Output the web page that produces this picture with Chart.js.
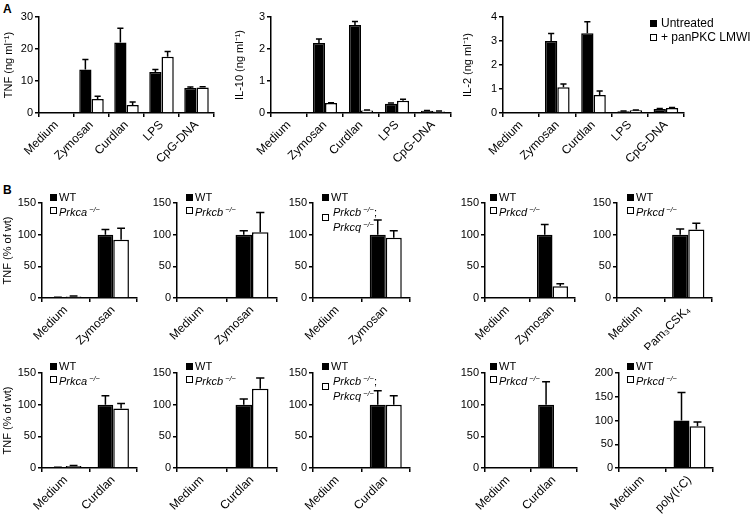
<!DOCTYPE html>
<html>
<head>
<meta charset="utf-8">
<script src="https://cdn.jsdelivr.net/npm/chart.js@4.4.1/dist/chart.umd.min.js"></script>
<style>
    body { margin: 0; background: #fff; }
    #fig { position: relative; width: 755px; height: 514px; overflow: hidden; font-family: 'Liberation Sans', Arial, sans-serif; color: #000; }
    #fig canvas { position: absolute; }
    .letter { position: absolute; font-weight: bold; font-size: 12px; line-height: 12px; }
    .leg { position: absolute; white-space: nowrap; line-height: 14px; height: 14px; }
    .leg sup { font-size: 7.5px; vertical-align: 4px; margin-left: 2px; font-style: italic; }
    .sw { position: absolute; width: 7px; height: 7px; box-sizing: border-box; border: 1px solid #000; }
</style>
</head>
<body>
<div id="fig">
    <div class="letter" style="left:3px;top:3px">A</div>
    <div class="letter" style="left:3px;top:184px">B</div>
</div>
<script>
const FONT = "'Liberation Sans', Arial, sans-serif";

// Panel A: cytokines, untreated vs + panPKC LMWI
const aCategories = ['Medium', 'Zymosan', 'Curdlan', 'LPS', 'CpG-DNA'];
const tnfUntreated = [0, 13.6, 22.0, 12.8, 7.8];
const tnfUntreatedErr = [0, 3.1, 4.5, 0.8, 0.3];
const tnfLmwi = [0, 4.4, 2.5, 17.6, 8.0];
const tnfLmwiErr = [0, 0.8, 0.9, 1.6, 0.2];
const il10Untreated = [0, 2.19, 2.75, 0.29, 0.07];
const il10UntreatedErr = [0, 0.12, 0.11, 0.02, 0.01];
const il10Lmwi = [0, 0.31, 0.08, 0.38, 0.05];
const il10LmwiErr = [0, 0.01, 0.01, 0.05, 0.01];
const il2Untreated = [0, 3.0, 3.32, 0.07, 0.17];
const il2UntreatedErr = [0, 0.31, 0.48, 0.01, 0.02];
const il2Lmwi = [0, 1.07, 0.75, 0.11, 0.21];
const il2LmwiErr = [0, 0.14, 0.17, 0.01, 0.02];

// Panel B: TNF (% of wt), WT vs knockout
const zymosanCats = ['Medium', 'Zymosan'];
const curdlanCats = ['Medium', 'Curdlan'];
const pamCats = ['Medium', 'Pam₃CSK₄'];
const polyCats = ['Medium', 'poly(I:C)'];

const prkcaZymWt = [1, 100];
const prkcaZymWtErr = [0.3, 8];
const prkcaZymKo = [2.5, 92];
const prkcaZymKoErr = [0.8, 18];
const prkcbZymWt = [0, 100];
const prkcbZymWtErr = [0, 6];
const prkcbZymKo = [0, 104];
const prkcbZymKoErr = [0, 31];
const prkcbqZymWt = [0, 100];
const prkcbqZymWtErr = [0, 23];
const prkcbqZymKo = [0, 95];
const prkcbqZymKoErr = [0, 11];
const prkcdZymWt = [0, 100];
const prkcdZymWtErr = [0, 16];
const prkcdZymKo = [0, 18.5];
const prkcdZymKoErr = [0, 4];
const prkcdPamWt = [0, 100];
const prkcdPamWtErr = [0, 9];
const prkcdPamKo = [0, 108];
const prkcdPamKoErr = [0, 10];

const prkcaCurWt = [1, 100];
const prkcaCurWtErr = [0.3, 14];
const prkcaCurKo = [3, 94];
const prkcaCurKoErr = [1, 8];
const prkcbCurWt = [0, 100];
const prkcbCurWtErr = [0, 9];
const prkcbCurKo = [0, 125];
const prkcbCurKoErr = [0, 17];
const prkcbqCurWt = [0, 100];
const prkcbqCurWtErr = [0, 22];
const prkcbqCurKo = [0, 100];
const prkcbqCurKoErr = [0, 14];
const prkcdCurWt = [0, 100];
const prkcdCurWtErr = [0, 36];
const prkcdCurKo = [0, 1.5];
const prkcdCurKoErr = [0, 0];
const prkcdPolyWt = [0, 100];
const prkcdPolyWtErr = [0, 59];
const prkcdPolyKo = [0, 88];
const prkcdPolyKoErr = [0, 9];

const fig = document.getElementById('fig');

// One-sided (upward) error bars with a short cap
const errorBars = {
    id: 'errorBars',
    afterDatasetsDraw(chart) {
        const ctx = chart.ctx;
        const yScale = chart.scales.y;
        chart.data.datasets.forEach((ds, di) => {
            const meta = chart.getDatasetMeta(di);
            meta.data.forEach((bar, i) => {
                const err = ds.errors ? ds.errors[i] : 0;
                if (!err) return;
                const yBase = yScale.getPixelForValue(ds.data[i]);
                const yTop = yScale.getPixelForValue(ds.data[i] + err);
                const half = bar.width / 4;
                ctx.save();
                ctx.strokeStyle = '#000';
                ctx.lineWidth = 1.5;
                ctx.beginPath();
                ctx.moveTo(bar.x, yBase);
                ctx.lineTo(bar.x, yTop);
                ctx.moveTo(bar.x - half, yTop);
                ctx.lineTo(bar.x + half, yTop);
                ctx.stroke();
                ctx.restore();
            });
        });
    }
};

function drawPanel(p) {
    const padTop = 10, padRight = 6;
    const x0 = p.left - p.axisW;
    const y0 = p.top - padTop;
    const canvas = document.createElement('canvas');
    canvas.width = (p.right - p.left) + p.axisW + padRight;
    canvas.height = (p.bottom - p.top) + padTop + p.labelH;
    canvas.style.left = x0 + 'px';
    canvas.style.top = y0 + 'px';
    fig.appendChild(canvas);

    const tickFont = { family: FONT, size: 11 };
    new Chart(canvas, {
        type: 'bar',
        data: {
            labels: p.labels,
            datasets: [
                { data: p.a, errors: p.aErr, backgroundColor: '#000', borderColor: '#000', borderWidth: 1.5 },
                { data: p.b, errors: p.bErr, backgroundColor: '#fff', borderColor: '#000', borderWidth: 1.5 }
            ]
        },
        options: {
            responsive: false,
            animation: false,
            devicePixelRatio: 1,
            layout: { padding: { top: padTop, right: padRight, left: 0, bottom: 0 } },
            plugins: { legend: { display: false }, tooltip: { enabled: false } },
            datasets: { bar: { categoryPercentage: p.catPct, barPercentage: 1 } },
            scales: {
                x: {
                    grid: { display: true, drawOnChartArea: false, drawTicks: true, tickLength: 4, color: '#000', lineWidth: 1.5, offset: true },
                    border: { display: true, color: '#000', width: 1.5 },
                    ticks: { color: '#000', font: { family: FONT, size: 12 }, minRotation: 45, maxRotation: 45, padding: 1, autoSkip: false },
                    afterFit: s => { s.height = p.labelH; }
                },
                y: {
                    min: 0,
                    max: p.yMax,
                    grid: { drawOnChartArea: false, drawTicks: true, tickLength: 4, color: '#000', lineWidth: 1.5 },
                    border: { display: true, color: '#000', width: 1.5 },
                    ticks: { stepSize: p.yStep, color: '#000', font: tickFont, padding: 2 },
                    title: { display: !!p.yTitle, text: p.yTitle, color: '#000', font: tickFont, padding: { top: p.titlePad || 2, bottom: 0 } },
                    afterFit: s => { s.width = p.axisW; }
                }
            }
        },
        plugins: [errorBars]
    });
}

function addSwatch(x, yc, filled) {
    const sw = document.createElement('div');
    sw.className = 'sw';
    sw.style.left = x + 'px';
    sw.style.top = (yc - 3.5) + 'px';
    sw.style.background = filled ? '#000' : '#fff';
    fig.appendChild(sw);
}

function addText(x, yc, html, size) {
    const t = document.createElement('div');
    t.className = 'leg';
    t.style.left = x + 'px';
    t.style.top = (yc - 7) + 'px';
    t.style.fontSize = size + 'px';
    t.innerHTML = html;
    fig.appendChild(t);
}

function koLegend(x, y1, gene) {
    addSwatch(x, y1, true);
    addText(x + 9, y1, 'WT', 11);
    addSwatch(x, y1 + 13, false);
    addText(x + 9, y1 + 13, '<i>' + gene + '</i><sup>−/−</sup>', 11);
}

// Panel A
drawPanel({ left: 39, top: 17, right: 214, bottom: 113, axisW: 39, labelH: 58, yMax: 30, yStep: 10,
    yTitle: 'TNF (ng ml⁻¹)', labels: aCategories, catPct: 0.7,
    a: tnfUntreated, aErr: tnfUntreatedErr, b: tnfLmwi, bErr: tnfLmwiErr });
drawPanel({ left: 271, top: 17, right: 451, bottom: 113, axisW: 40, labelH: 58, yMax: 3, yStep: 1,
    yTitle: 'IL-10 (ng ml⁻¹)', labels: aCategories, catPct: 0.67,
    a: il10Untreated, aErr: il10UntreatedErr, b: il10Lmwi, bErr: il10LmwiErr });
drawPanel({ left: 503, top: 17, right: 684, bottom: 113, axisW: 44, labelH: 58, yMax: 4, yStep: 1,
    yTitle: 'IL-2 (ng ml⁻¹)', labels: aCategories, catPct: 0.68,
    a: il2Untreated, aErr: il2UntreatedErr, b: il2Lmwi, bErr: il2LmwiErr });

addSwatch(650, 23, true);
addText(661, 23, 'Untreated', 12);
addSwatch(650, 37, false);
addText(661, 37, '+ panPKC LMWI', 12);

// Panel B, row 1
const r1Top = 203, r1Bottom = 298;
drawPanel({ left: 42, top: r1Top, right: 137, bottom: r1Bottom, axisW: 42, labelH: 52, yMax: 150, yStep: 50,
    yTitle: 'TNF (% of wt)', titlePad: 1, labels: zymosanCats, catPct: 0.66,
    a: prkcaZymWt, aErr: prkcaZymWtErr, b: prkcaZymKo, bErr: prkcaZymKoErr });
drawPanel({ left: 177, top: r1Top, right: 277, bottom: r1Bottom, axisW: 30, labelH: 52, yMax: 150, yStep: 50,
    yTitle: '', labels: zymosanCats, catPct: 0.66,
    a: prkcbZymWt, aErr: prkcbZymWtErr, b: prkcbZymKo, bErr: prkcbZymKoErr });
drawPanel({ left: 313, top: r1Top, right: 410, bottom: r1Bottom, axisW: 30, labelH: 52, yMax: 150, yStep: 50,
    yTitle: '', labels: zymosanCats, catPct: 0.66,
    a: prkcbqZymWt, aErr: prkcbqZymWtErr, b: prkcbqZymKo, bErr: prkcbqZymKoErr });
drawPanel({ left: 485, top: r1Top, right: 575, bottom: r1Bottom, axisW: 30, labelH: 52, yMax: 150, yStep: 50,
    yTitle: '', labels: zymosanCats, catPct: 0.69,
    a: prkcdZymWt, aErr: prkcdZymWtErr, b: prkcdZymKo, bErr: prkcdZymKoErr });
drawPanel({ left: 617, top: r1Top, right: 712, bottom: r1Bottom, axisW: 30, labelH: 52, yMax: 150, yStep: 50,
    yTitle: '', labels: pamCats, catPct: 0.68,
    a: prkcdPamWt, aErr: prkcdPamWtErr, b: prkcdPamKo, bErr: prkcdPamKoErr });

// Panel B, row 2
const r2Top = 373, r2Bottom = 468;
drawPanel({ left: 42, top: r2Top, right: 137, bottom: r2Bottom, axisW: 42, labelH: 46, yMax: 150, yStep: 50,
    yTitle: 'TNF (% of wt)', titlePad: 1, labels: curdlanCats, catPct: 0.66,
    a: prkcaCurWt, aErr: prkcaCurWtErr, b: prkcaCurKo, bErr: prkcaCurKoErr });
drawPanel({ left: 177, top: r2Top, right: 277, bottom: r2Bottom, axisW: 30, labelH: 46, yMax: 150, yStep: 50,
    yTitle: '', labels: curdlanCats, catPct: 0.66,
    a: prkcbCurWt, aErr: prkcbCurWtErr, b: prkcbCurKo, bErr: prkcbCurKoErr });
drawPanel({ left: 313, top: r2Top, right: 410, bottom: r2Bottom, axisW: 30, labelH: 46, yMax: 150, yStep: 50,
    yTitle: '', labels: curdlanCats, catPct: 0.66,
    a: prkcbqCurWt, aErr: prkcbqCurWtErr, b: prkcbqCurKo, bErr: prkcbqCurKoErr });
drawPanel({ left: 485, top: r2Top, right: 577, bottom: r2Bottom, axisW: 30, labelH: 46, yMax: 150, yStep: 50,
    yTitle: '', labels: curdlanCats, catPct: 0.69,
    a: prkcdCurWt, aErr: prkcdCurWtErr, b: prkcdCurKo, bErr: prkcdCurKoErr });
drawPanel({ left: 619, top: r2Top, right: 713, bottom: r2Bottom, axisW: 30, labelH: 46, yMax: 200, yStep: 50,
    yTitle: '', labels: polyCats, catPct: 0.68,
    a: prkcdPolyWt, aErr: prkcdPolyWtErr, b: prkcdPolyKo, bErr: prkcdPolyKoErr });

// Legends, panel B
[[50, 197], [186, 197], [490, 197], [627, 197]].forEach(([x, y], i) => {
    koLegend(x, y, ['Prkca', 'Prkcb', 'Prkcd', 'Prkcd'][i]);
});
[[50, 366], [186, 366], [490, 366], [627, 366]].forEach(([x, y], i) => {
    koLegend(x, y, ['Prkca', 'Prkcb', 'Prkcd', 'Prkcd'][i]);
});
[197, 366].forEach(y => {
    addSwatch(322, y, true);
    addText(331, y, 'WT', 11);
    addSwatch(322, y + 20, false);
    addText(333, y + 13, '<i>Prkcb</i><sup>−/−</sup>;', 11);
    addText(333, y + 28, '<i>Prkcq</i><sup>−/−</sup>', 11);
});
</script>
</body>
</html>
